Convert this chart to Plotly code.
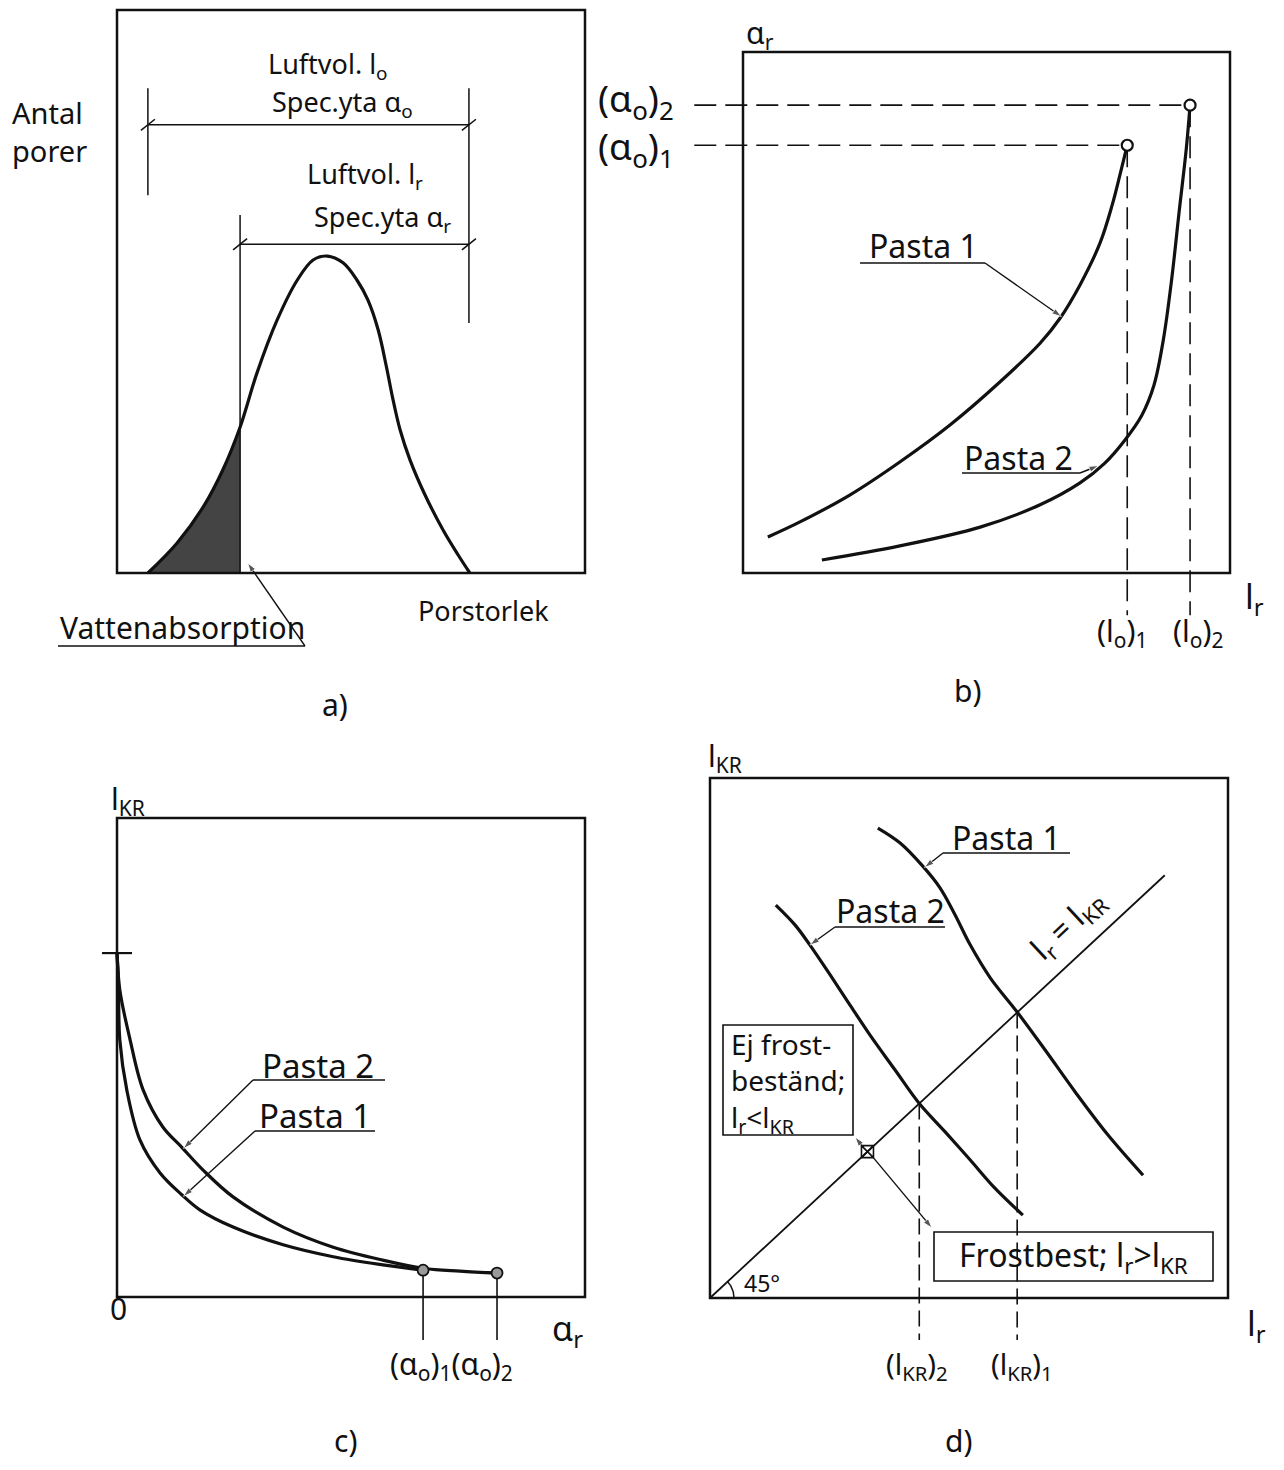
import numpy as np
import plotly.graph_objects as go

# page is 1284x1470; the browser body keeps an 8px margin, so the figure is a bit smaller
OFF = 8
FIG_W, FIG_H = 1284 - 2 * OFF, 1470 - 2 * OFF

# ---------------- data (schematic values) ----------------
# a) pore size distribution
pore_size = [6.6, 12.8, 18.4, 22.6, 26.3, 29.9, 34.2, 38.5, 41.9, 44.9, 48.3, 51.3,
             53.6, 55.8, 57.5, 59.0, 60.5, 62.6, 65.8, 69.7, 72.9, 75.4]
pore_count = [0, 5.3, 11.7, 18.3, 25.9, 35.5, 44.9, 52.0, 55.6, 56.3, 55.1, 52.0,
              48.5, 43.2, 36.9, 30.7, 25.4, 20.1, 13.9, 7.6, 3.2, 0]
absorption_limit = 26.3
span_l0 = [6.6, 75.2]
span_lr = [26.3, 75.2]
dim_level = [79.6, 58.4]

# b) alpha_r vs l_r
lr_b_p1 = [5.1, 11.7, 22.0, 32.2, 42.5, 52.8, 61.0, 65.1, 69.2, 73.3, 75.8, 77.4, 78.9]
ar_b_p1 = [6.9, 9.8, 15.0, 21.3, 28.4, 36.7, 44.1, 48.9, 55.3, 63.3, 70.6, 76.4, 82.1]
lr_b_p2 = [16.2, 32.2, 48.7, 61.0, 69.2, 74.3, 78.4, 81.9, 84.4, 86.3, 88.0, 89.6, 91.0, 91.8]
ar_b_p2 = [2.5, 5.2, 8.8, 13.1, 17.3, 21.1, 25.5, 30.3, 36.1, 44.7, 56.2, 69.7, 81.2, 89.8]
l0_vals = [78.9, 91.8]
a0_vals = [82.1, 89.8]

# c) l_KR vs alpha_r
ar_c_p1 = [0, 0.3, 0.6, 2.1, 4.9, 9.2, 13.9, 17.7, 24.8, 35.5, 46.2, 56.8, 65.4]
lkr_c_p1 = [71.8, 66.2, 53.7, 43.2, 32.8, 25.9, 21.3, 18.2, 14.6, 10.9, 8.4, 6.7, 5.6]
ar_c_p2 = [0, 0.6, 2.8, 5.6, 9.8, 13.9, 18.4, 24.8, 35.5, 46.2, 56.8, 65.4, 73.3, 81.2]
lkr_c_p2 = [71.8, 64.1, 53.7, 43.2, 35.5, 31.2, 26.5, 20.9, 14.6, 10.4, 7.7, 6.0, 5.4, 5.0]
lkr_c_top = 71.8

# d) l_KR vs l_r
lr_d_p1 = [32.4, 36.7, 40.9, 44.4, 47.3, 50.2, 54.1, 59.3, 64.7, 70.5, 76.8, 83.6]
lkr_d_p1 = [97.6, 94.5, 89.9, 85.2, 79.6, 73.4, 66.5, 59.4, 51.5, 42.8, 33.9, 25.5]
lr_d_p2 = [12.7, 16.4, 19.3, 23.2, 27.0, 30.9, 35.7, 40.4, 45.4, 50.2, 55.0, 60.4]
lkr_d_p2 = [81.6, 77.5, 73.3, 67.1, 60.9, 54.6, 47.4, 40.4, 34.5, 28.7, 22.8, 17.2]
lkr_crit = [59.3, 40.4]
diag_end = 87.8
marker_pt = 30.4

# ---------------- layout geometry (page pixels) ----------------
PANELS = {
    'a': dict(ax='', box=(117, 10, 585, 573), dom=(8, 8, 640, 700), ext=(100, 100)),
    'b': dict(ax='2', box=(743, 52, 1230, 573), dom=(660, 8, 1276, 700), ext=(100, 100)),
    'c': dict(ax='3', box=(117, 818, 585, 1297), dom=(8, 740, 640, 1462), ext=(100, 100)),
    'd': dict(ax='4', box=(710, 778, 1228, 1298), dom=(660, 740, 1276, 1462), ext=(100, 108)),
}
FONT = "Noto Sans"
BLACK = "#111111"

fig = go.Figure()
layout = dict(width=FIG_W, height=FIG_H, margin=dict(l=0, r=0, t=0, b=0),
              paper_bgcolor="white", plot_bgcolor="white", showlegend=False)
for k, p in PANELS.items():
    L, T, R, B = p['box']
    l, t, r, b = p['dom']
    ex, ey = p['ext']
    sx = ex / (R - L)
    sy = ey / (B - T)
    p['sx'], p['sy'] = sx, sy
    xa = dict(domain=[(l - OFF) / FIG_W, (r - OFF) / FIG_W], range=[(l - L) * sx, (r - L) * sx],
              visible=False, showgrid=False, zeroline=False, fixedrange=True)
    ya = dict(domain=[1 - (b - OFF) / FIG_H, 1 - (t - OFF) / FIG_H],
              range=[(B - b) * sy, (B - t) * sy],
              visible=False, showgrid=False, zeroline=False, fixedrange=True)
    n = p['ax']
    layout['xaxis' + n] = xa
    layout['yaxis' + n] = ya
    p['xref'] = 'x' + n
    p['yref'] = 'y' + n
fig.update_layout(**layout)


def to_px(k, x, y):
    p = PANELS[k]
    L, T, R, B = p['box']
    return L + x / p['sx'], B - y / p['sy']


def from_px(k, px, py):
    p = PANELS[k]
    L, T, R, B = p['box']
    return (px - L) * p['sx'], (B - py) * p['sy']


def line(k, xs, ys, width=3, dash=None, shape='linear', color=BLACK, fill=None, fillcolor=None):
    p = PANELS[k]
    fig.add_trace(go.Scatter(x=xs, y=ys, mode='lines', xaxis=p['xref'], yaxis=p['yref'],
                             line=dict(color=color, width=width, dash=dash, shape=shape),
                             fill=fill, fillcolor=fillcolor, hoverinfo='skip'))


def frame(k):
    p = PANELS[k]
    ex, ey = p['ext']
    fig.add_shape(type='rect', xref=p['xref'], yref=p['yref'], x0=0, y0=0, x1=ex, y1=ey,
                  line=dict(color=BLACK, width=2.5), fillcolor='rgba(0,0,0,0)')


def px2paper(px, py):
    return (px - OFF) / FIG_W, 1 - (py - OFF) / FIG_H


def text(px, py, s, size=28, xanchor='center', yanchor='middle', angle=0, align='center'):
    x, y = px2paper(px, py)
    fig.add_annotation(x=x, y=y, xref='paper', yref='paper', text=s, showarrow=False,
                       xanchor=xanchor, yanchor=yanchor, textangle=angle, align=align,
                       font=dict(family=FONT, size=size, color=BLACK))


def pline(x0, y0, x1, y1, width=1.5, dash=None):
    a0, b0 = px2paper(x0, y0)
    a1, b1 = px2paper(x1, y1)
    fig.add_shape(type='line', xref='paper', yref='paper', x0=a0, y0=b0, x1=a1, y1=b1,
                  line=dict(color=BLACK, width=width, dash=dash))


def arrow(k, x, y, tail_px, width=1.4):
    p = PANELS[k]
    tx, ty = from_px(k, *tail_px)
    fig.add_trace(go.Scatter(x=[tx, x], y=[ty, y], mode='lines+markers',
                             xaxis=p['xref'], yaxis=p['yref'],
                             line=dict(color=BLACK, width=width),
                             marker=dict(symbol='arrow', size=[0, 10], angleref='previous',
                                         color=BLACK), hoverinfo='skip'))


def slash(px, py, s=7):
    pline(px - s, py + s * 0.8, px + s, py - s * 0.8, width=1.5)


# ---------------- panel a ----------------
frame('a')
shade_x = [v for v in pore_size if v <= absorption_limit] + [absorption_limit]
shade_y = [pore_count[i] for i, v in enumerate(pore_size) if v <= absorption_limit] + [0]
line('a', shade_x, shade_y, width=0.5, fill='toself', fillcolor='#444444', color='#444444')
line('a', pore_size, pore_count, width=3.2, shape='spline')
line('a', span_l0, [dim_level[0]] * 2, width=1.5)
line('a', span_lr, [dim_level[1]] * 2, width=1.5)
line('a', [span_l0[0]] * 2, [dim_level[0] + 6.5, dim_level[0] - 12.5], width=1.5)
line('a', [span_l0[1]] * 2, [dim_level[0] + 6.5, 44.4], width=1.5)
line('a', [span_lr[0]] * 2, [dim_level[1] + 5.2, 0], width=1.5)
for xv, yv in [(span_l0[0], dim_level[0]), (span_l0[1], dim_level[0]),
               (span_lr[0], dim_level[1]), (span_lr[1], dim_level[1])]:
    slash(*to_px('a', xv, yv))
text(328, 66, "Luftvol. l<sub>o</sub>", 27)
text(342, 104, "Spec.yta α<sub>o</sub>", 27)
text(365, 176, "Luftvol. l<sub>r</sub>", 27)
text(382, 219, "Spec.yta α<sub>r</sub>", 27)
text(10, 132, "Antal<br>porer", 29, xanchor='left', align='left')
text(182, 628, "Vattenabsorption", 30)
pline(58, 646, 305, 646, width=1.5)
arrow('a', absorption_limit + 1.6, 1.8, (305, 646))
text(483, 610, "Porstorlek", 27)
text(335, 705, "a)", 30)

# ---------------- panel b ----------------
frame('b')
for lv, av in zip(l0_vals, a0_vals):
    line('b', [-10, lv], [av, av], width=1.6, dash='22px,9px')
    line('b', [lv, lv], [av, -8.1], width=1.6, dash='22px,9px')
line('b', lr_b_p1, ar_b_p1, width=3.2, shape='spline')
line('b', lr_b_p2, ar_b_p2, width=3.2, shape='spline')
fig.add_trace(go.Scatter(x=l0_vals, y=a0_vals, mode='markers', xaxis='x2', yaxis='y2',
                         marker=dict(symbol='circle', size=11, color='white',
                                     line=dict(color=BLACK, width=2.2)), hoverinfo='skip'))
text(744, 10, "α<sub>r</sub>", 30, xanchor='left', yanchor='top')
text(636, 100, "(α<sub>o</sub>)<sub>2</sub>", 37)
text(636, 148, "(α<sub>o</sub>)<sub>1</sub>", 37)
text(924, 246, "Pasta 1", 32)
pline(860, 263, 985, 263)
arrow('b', 65.4, 49.2, (985, 263))
text(1018, 457, "Pasta 2", 32)
pline(962, 473, 1080, 473)
arrow('b', 73.0, 20.6, (1080, 473))
text(1254, 598, "l<sub>r</sub>", 34)
text(1122, 632, "(l<sub>o</sub>)<sub>1</sub>", 30)
text(1198, 632, "(l<sub>o</sub>)<sub>2</sub>", 30)
text(967, 690, "b)", 30)

# ---------------- panel c ----------------
frame('c')
line('c', [-3.2, 3.2], [lkr_c_top, lkr_c_top], width=2.2)
line('c', ar_c_p1, lkr_c_p1, width=3.2, shape='spline')
line('c', ar_c_p2, lkr_c_p2, width=3.2, shape='spline')
for av, yv in [(ar_c_p1[-1], lkr_c_p1[-1]), (ar_c_p2[-1], lkr_c_p2[-1])]:
    line('c', [av, av], [yv, -9.0], width=1.6)
fig.add_trace(go.Scatter(x=[ar_c_p1[-1], ar_c_p2[-1]], y=[lkr_c_p1[-1], lkr_c_p2[-1]],
                         mode='markers', xaxis='x3', yaxis='y3',
                         marker=dict(symbol='circle', size=11, color='#9a9a9a',
                                     line=dict(color=BLACK, width=1.8)), hoverinfo='skip'))
text(128, 800, "l<sub>KR</sub>", 30)
text(318, 1065, "Pasta 2", 33)
pline(253, 1080, 385, 1080)
arrow('c', 14.2, 31.0, (253, 1080))
text(315, 1115, "Pasta 1", 33)
pline(255, 1131, 375, 1131)
arrow('c', 14.2, 21.0, (255, 1131))
text(118, 1308, "0", 30)
text(567, 1330, "α<sub>r</sub>", 34)
text(451, 1365, "(α<sub>o</sub>)<sub>1</sub>(α<sub>o</sub>)<sub>2</sub>", 30)
text(345, 1440, "c)", 30)

# ---------------- panel d ----------------
frame('d')
line('d', [0, diag_end], [0, diag_end], width=1.8)
for v in lkr_crit:
    line('d', [v, v], [v, -8.7], width=1.6, dash='16px,7px')
line('d', lr_d_p1, lkr_d_p1, width=3.2, shape='spline')
line('d', lr_d_p2, lkr_d_p2, width=3.2, shape='spline')
ang = np.linspace(0, np.deg2rad(43), 20)
rad = 24
line('d', list(rad * np.cos(ang) * PANELS['d']['sx']), list(rad * np.sin(ang) * PANELS['d']['sy']),
     width=1.5)
fig.add_trace(go.Scatter(x=[marker_pt], y=[marker_pt], mode='markers', xaxis='x4', yaxis='y4',
                         marker=dict(symbol='square-x-open', size=12, color=BLACK,
                                     line=dict(color=BLACK, width=1.6)), hoverinfo='skip'))
mx, my = to_px('d', marker_pt, marker_pt)
e1 = from_px('d', 855, 1137)
e2 = from_px('d', 932, 1228)
arrow('d', e1[0], e1[1], (mx - 4, my - 4))
arrow('d', e2[0], e2[1], (mx + 5, my + 5))
for (x0, y0, x1, y1) in [(723, 1025, 853, 1135), (934, 1232, 1213, 1281)]:
    a0, b0 = px2paper(x0, y0)
    a1, b1 = px2paper(x1, y1)
    fig.add_shape(type='rect', xref='paper', yref='paper', x0=a0, y0=b0, x1=a1, y1=b1,
                  line=dict(color=BLACK, width=1.6))
text(729, 1082, "Ej frost-<br>beständ;<br>l<sub>r</sub>&lt;l<sub>KR</sub>", 28,
     xanchor='left', align='left')
text(1073, 1257, "Frostbest; l<sub>r</sub>&gt;l<sub>KR</sub>", 32)
text(762, 1283, "45°", 23)
text(725, 757, "l<sub>KR</sub>", 30)
text(1006, 837, "Pasta 1", 32)
pline(943, 853, 1070, 853)
arrow('d', 41.4, 89.4, (943, 853))
text(890, 910, "Pasta 2", 32)
pline(835, 927, 945, 927)
arrow('d', 19.3, 73.3, (835, 927))
text(1068, 925, "l<sub>r</sub> = l<sub>KR</sub>", 31, angle=-43)
text(917, 1365, "(l<sub>KR</sub>)<sub>2</sub>", 29)
text(1022, 1365, "(l<sub>KR</sub>)<sub>1</sub>", 29)
text(1256, 1325, "l<sub>r</sub>", 34)
text(958, 1440, "d)", 30)

fig.write_html("out.html")
